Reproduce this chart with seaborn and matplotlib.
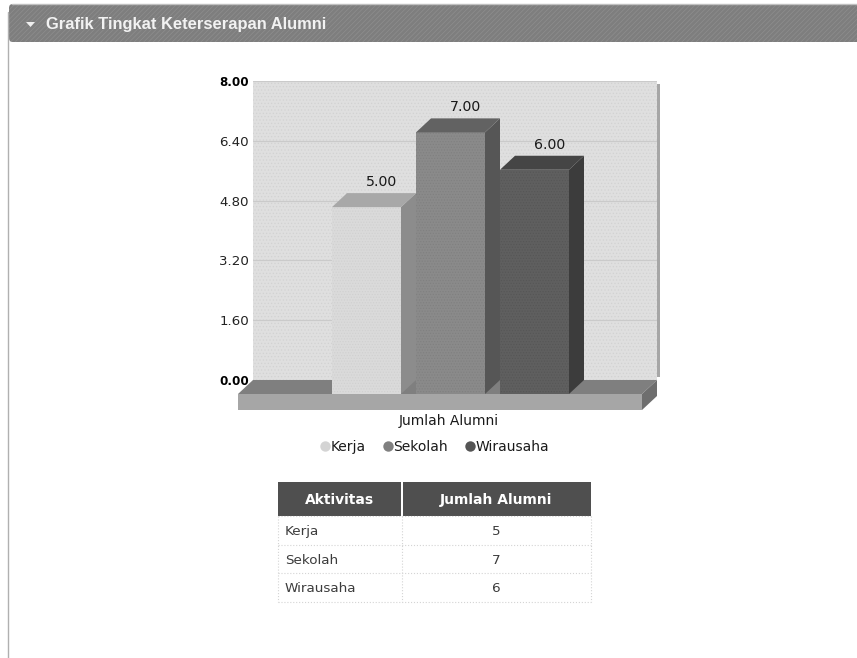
import matplotlib
matplotlib.use("Agg")
import matplotlib.pyplot as plt
import seaborn as sns
import pandas as pd
from matplotlib.patches import Polygon, Rectangle, FancyBboxPatch
from matplotlib.lines import Line2D

categories = ["Kerja", "Sekolah", "Wirausaha"]
values = [5, 7, 6]
value_labels = ["5.00", "7.00", "6.00"]
y_ticks = [0, 1.6, 3.2, 4.8, 6.4, 8]
y_tick_labels = ["0.00", "1.60", "3.20", "4.80", "6.40", "8.00"]
x_title = "Jumlah Alumni"
panel_title = "Grafik Tingkat Keterserapan Alumni"
table_header = ["Aktivitas", "Jumlah Alumni"]
front_colors = ["#dadada", "#8a8a8a", "#5f5f5f"]
top_colors = ["#a8a8a8", "#626262", "#454545"]
side_colors = ["#8c8c8c", "#565656", "#3c3c3c"]
hatch_colors = ["#d0d0d0", "#808080", "#565656"]
legend_colors = ["#d4d4d4", "#808080", "#555555"]

W, H = 857, 658
sns.set_theme(style="white")
plt.rcParams["font.family"] = ["DejaVu Sans"]
plt.rcParams["hatch.linewidth"] = 0.5

fig = plt.figure(figsize=(W / 100, H / 100), dpi=100, facecolor="white")


def frac(l, t, r, b):
    return [l / W, 1 - b / H, (r - l) / W, (b - t) / H]


# page furniture in pixel coordinates
page = fig.add_axes([0, 0, 1, 1], zorder=0)
page.set_xlim(0, W)
page.set_ylim(H, 0)
page.axis("off")
page.plot([8.5, 8.5], [12, H], color="#b0b0b0", lw=1)
page.add_patch(FancyBboxPatch((9, 4), W + 30, 38, boxstyle="round,pad=0,rounding_size=4",
                              fc="#7e7e7e", ec="#8e8e8e", lw=0, hatch="///////"))
page.plot([12, W], [4, 4], color="#c0c0c0", lw=1)
page.add_patch(Polygon([(26, 22), (35, 22), (30.5, 27)], fc="#efefef", ec="none"))
page.text(46, 24.5, panel_title, color="#f2f2f2", fontsize=11.9, fontweight="bold",
          family="Liberation Sans", va="center", ha="left")

# table
col_x = [278, 402, 591]
row_y = [516, 545, 573, 602]
page.add_patch(Rectangle((col_x[0], 482), col_x[1] - col_x[0] - 1, 34, fc="#4f4f4f", ec="none"))
page.add_patch(Rectangle((col_x[1] + 1, 482), col_x[2] - col_x[1] - 1, 34, fc="#4f4f4f", ec="none"))
page.text((col_x[0] + col_x[1]) / 2, 500, table_header[0], color="white", fontsize=10,
          fontweight="bold", ha="center", va="center")
page.text((col_x[1] + col_x[2]) / 2, 500, table_header[1], color="white", fontsize=10,
          fontweight="bold", ha="center", va="center")
for y in row_y:
    page.plot([col_x[0], col_x[2]], [y, y], color="#d4d4d4", lw=0.8, ls=":")
for x in col_x:
    page.plot([x, x], [row_y[0], row_y[-1]], color="#d4d4d4", lw=0.8, ls=":")
for i, (c, v) in enumerate(zip(categories, values)):
    yc = (row_y[i] + row_y[i + 1]) / 2 + 1
    page.text(285, yc, c, color="#3c3c3c", fontsize=9.7, ha="left", va="center")
    page.text((col_x[1] + col_x[2]) / 2, yc, str(v), color="#3c3c3c", fontsize=9.7, ha="center", va="center")

# back wall: real value axis
wall = fig.add_axes(frac(253, 81, 657, 380), zorder=1)
wall.set_xlim(0, 1)
wall.set_ylim(0, 8)
wall.set_xticks([])
wall.set_yticks(y_ticks)
wall.set_yticklabels(y_tick_labels, fontsize=9.6, color="#222222")
wall.tick_params(axis="y", length=0, pad=3)
for lab in (wall.get_yticklabels()[0], wall.get_yticklabels()[-1]):
    lab.set_fontweight("bold")
    lab.set_color("black")
    lab.set_fontsize(8.6)
wall.grid(axis="y", color="#cacaca", lw=0.8)
wall.set_axisbelow(True)
wall.set_facecolor("#dfdfdf")
wall.patch.set_hatch(".....")
wall.patch.set_edgecolor("#d2d2d2")
for s in wall.spines.values():
    s.set_visible(False)
wall.add_patch(Rectangle((1, 0.01), 3 / 404, 0.98, transform=wall.transAxes, fc="#a6a6a6", ec="none", clip_on=False))

# front plane: bars
ax = fig.add_axes(frac(238, 95, 642, 394), zorder=2)
ax.patch.set_alpha(0)
STEP = 84.0
PX_UNIT = 299 / 8
DX, DY = 15 / STEP, 14 / PX_UNIT
xmin = -128.5 / STEP
df = pd.DataFrame({"Aktivitas": categories, "Jumlah": values})
sns.barplot(data=df, x="Aktivitas", y="Jumlah", hue="Aktivitas", palette=front_colors,
            hue_order=categories, order=categories, dodge=False, width=69 / STEP,
            legend=False, saturation=1, ax=ax, zorder=3)
ax.set_xlim(xmin, xmin + 404 / STEP)
ax.set_ylim(0, 8)
ax.set_yticks([])
ax.set_xticks([])
ax.set_ylabel("")
ax.set_xlabel(x_title, fontsize=10, color="#1a1a1a", va="top")
ax.xaxis.set_label_coords(0.522, -19.5 / 299)
for s in ax.spines.values():
    s.set_visible(False)

# floor
xa, xb = xmin, xmin + 404 / STEP
floor_h = 16 / PX_UNIT
ax.add_patch(Rectangle((xa, -floor_h), xb - xa, floor_h, fc="#a6a6a6", ec="none", clip_on=False, zorder=1))
ax.add_patch(Polygon([(xa, 0), (xb, 0), (xb + DX, DY), (xa + DX, DY)], fc="#7f7f7f", ec="none", clip_on=False, zorder=1))
ax.add_patch(Polygon([(xb, 0), (xb + DX, DY), (xb + DX, DY - floor_h), (xb, -floor_h)],
                     fc="#6e6e6e", ec="none", clip_on=False, zorder=1))

# 3D faces and value labels built from the bars themselves
bars = sorted([p for p in ax.patches if isinstance(p, Rectangle) and p.get_height() > 0 and p.get_zorder() == 3],
              key=lambda p: p.get_x())
for i, b in enumerate(bars):
    x0, w, h = b.get_x(), b.get_width(), b.get_height()
    b.set_linewidth(0)
    b.set_hatch("......")
    b.set_edgecolor(hatch_colors[i])
    ax.add_patch(Polygon([(x0, h), (x0 + w, h), (x0 + w + DX, h + DY), (x0 + DX, h + DY)],
                         fc=top_colors[i], ec="none", clip_on=False, zorder=3))
    ax.add_patch(Polygon([(x0 + w, 0), (x0 + w, h), (x0 + w + DX, h + DY), (x0 + w + DX, DY)],
                         fc=side_colors[i], ec="none", clip_on=False, zorder=2.5))
    ax.annotate(value_labels[i], (x0 + w / 2 + DX, h + DY), xytext=(0, 11 * 0.72), textcoords="offset points",
                ha="center", va="center", fontsize=10.2, color="#1a1a1a", annotation_clip=False)

# legend
handles = [Line2D([], [], ls="", marker="o", ms=7.5, mfc=c, mec="none") for c in legend_colors]
ax.legend(handles, categories, ncol=3, frameon=False, loc="center", bbox_to_anchor=(433 / W, 1 - 447 / H),
          bbox_transform=fig.transFigure, fontsize=10, labelcolor="#1a1a1a", handletextpad=-0.2,
          columnspacing=1.0, borderpad=0, handlelength=1.2)

fig.savefig("out.png", dpi=100, facecolor="white")
